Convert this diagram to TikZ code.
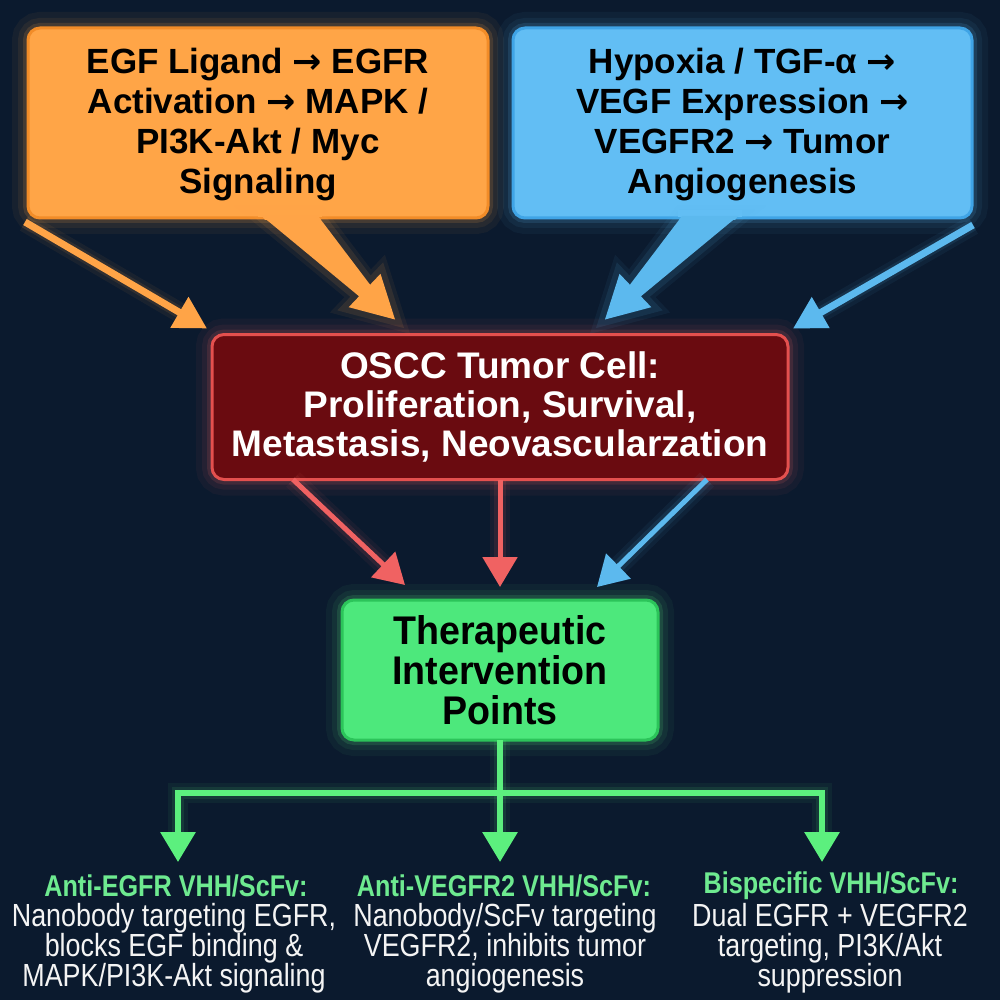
\documentclass[tikz,border=0pt]{standalone}
\usepackage{fontspec}
\setmainfont{Liberation Sans}
\newfontfamily\narrowfont[FakeStretch=0.84]{Liberation Sans}
\newfontfamily\gfont[FakeStretch=0.94]{Liberation Sans}
\newfontfamily\arrowfont{DejaVu Sans}
\newcommand\myarrow{{\arrowfont\bfseries →}}
\usetikzlibrary{arrows.meta,calc}
\definecolor{bg}{HTML}{0B1A2E}
\definecolor{orfill}{HTML}{FFA547}
\definecolor{ordraw}{HTML}{F28C28}
\definecolor{orarrow}{HTML}{FFA447}
\definecolor{blfill}{HTML}{62BEF4}
\definecolor{bldraw}{HTML}{3FA4E6}
\definecolor{blarrow}{HTML}{5CB9EE}
\definecolor{rdfill}{HTML}{6A0B10}
\definecolor{rddraw}{HTML}{E4504E}
\definecolor{rdarrow}{HTML}{F06262}
\definecolor{grfill}{HTML}{4DE87C}
\definecolor{grdraw}{HTML}{2CC45A}
\definecolor{grarrow}{HTML}{5CF07E}
\definecolor{grtext}{HTML}{6EEA90}
\definecolor{bodytext}{HTML}{F4F4F4}
\begin{document}
\begin{tikzpicture}[x=0.5pt,y=-0.5pt,
  box/.style={rounded corners=6pt, line width=1.5pt, inner sep=0pt, outer sep=0pt, align=center},
  glowbox/.style={preaction={draw=#1,line width=16pt,opacity=0.05},preaction={draw=#1,line width=10pt,opacity=0.07},preaction={draw=#1,line width=5pt,opacity=0.14}},
  glowline/.style={preaction={draw=#1,line width=10pt,opacity=0.06},preaction={draw=#1,line width=6pt,opacity=0.1}},
  topfont/.style={font=\bfseries\fontsize{17.5}{20}\selectfont},
  arrowline/.style={draw=#1, line width=3.5pt, -{Triangle[length=16pt,width=17pt]}, glowline=#1},
  midarrow/.style={draw=#1, line width=2.5pt, -{Triangle[length=15pt,width=17pt]}, glowline=#1},
  grarr/.style={draw=grarrow, line width=3pt, -{Triangle[length=15pt,width=17pt]}, glowline=grarrow},
  ttl/.style={inner sep=0pt, text=grtext, font=\narrowfont\bfseries\fontsize{15}{16}\selectfont},
  bdy/.style={inner sep=0pt, text=bodytext, align=center, font=\narrowfont\fontsize{16}{15}\selectfont}
]
\fill[bg] (0,0) rectangle (1000,1000);
\useasboundingbox (0,0) rectangle (1000,1000);

% top boxes
\node[box, glowbox=orarrow, fill=orfill, draw=ordraw, minimum width=230pt, minimum height=95pt, topfont] (org) at (258,123)
  {\rule{0pt}{2pt}\\[-8pt]EGF Ligand \myarrow{} EGFR\\Activation \myarrow{} MAPK /\\PI3K-Akt / Myc\\Signaling};
\node[box, glowbox=blarrow, fill=blfill, draw=bldraw, minimum width=229.5pt, minimum height=95pt, topfont] (blu) at (742.5,123)
  {\rule{0pt}{2pt}\\[-8pt]Hypoxia / TGF-α \myarrow\\VEGF Expression \myarrow\\VEGFR2 \myarrow{} Tumor\\Angiogenesis};

% red box
\node[box, glowbox=rdarrow, fill=rdfill, draw=rddraw, minimum width=288pt, minimum height=72.5pt, text=white,
  font=\bfseries\fontsize{18.5}{19.5}\selectfont] (red) at (500,407)
  {OSCC Tumor Cell:\\Proliferation, Survival,\\Metastasis, Neovascularzation};

% green box
\node[box, glowbox=grarrow, fill=grfill, draw=grdraw, minimum width=158pt, minimum height=70pt, text=black,
  font=\gfont\bfseries\fontsize{20}{20}\selectfont] (green) at (500,670)
  {Therapeutic\\Intervention\\Points};

% coordinates
\coordinate (oT) at ($(red.north west)+(183,-15)$);
\coordinate (bT) at ($(red.north east)+(-183,-15)$);
\coordinate (oA) at ($(org.south west)+(234,-2)$);
\coordinate (oB) at ($(org.south west)+(290,-2)$);
\coordinate (bA) at ($(blu.south west)+(225,-2)$);
\coordinate (bB) at ($(blu.south west)+(169,-2)$);
\coordinate (os) at ($(org.south west)+(-3,4)$);
\coordinate (ot) at ($(red.north west)+(-5,-6)$);
\coordinate (bs) at ($(blu.south east)+(1,7)$);
\coordinate (bt) at ($(red.north east)+(5,-6)$);

% wedge arrows
\fill[orarrow, glowline=orarrow] (oA) -- (oB) -- ($(oT)+(-24.9,-34.8)$) -- ($(oT)+(-14.5,-45.7)$) -- (oT)
  -- ($(oT)+(-46.3,-12.3)$) -- ($(oT)+(-35.9,-23.2)$) -- cycle;
\fill[blarrow, glowline=blarrow] (bA) -- (bB) -- ($(bT)+(24.9,-34.8)$) -- ($(bT)+(14.5,-45.7)$) -- (bT)
  -- ($(bT)+(46.3,-12.3)$) -- ($(bT)+(35.9,-23.2)$) -- cycle;
\fill[orfill] ($(oA)+(-4,-6)$) rectangle ($(oB)+(4,1)$);
\fill[blfill] ($(bB)+(-4,-6)$) rectangle ($(bA)+(4,1)$);
\fill[orarrow] (oA) -- (oB) -- ($(oB)+(3,4)$) -- ($(oA)+(3,4)$) -- cycle;
\fill[blarrow] (bA) -- (bB) -- ($(bB)+(-3,4)$) -- ($(bA)+(-3,4)$) -- cycle;

% thin arrows
\draw[arrowline=orarrow] (os) -- (ot);
\draw[arrowline=blarrow] (bs) -- (bt);

% red box to green box
\coordinate (r1) at ($(red.south west)+(81,0)$);
\coordinate (r3) at ($(red.south east)+(-81,0)$);
\coordinate (g1) at ($(green.north west)+(63,-15)$);
\coordinate (g2) at ($(green.north)+(0,-13)$);
\coordinate (g3) at ($(green.north east)+(-61,-13)$);
\draw[midarrow=rdarrow] (r1) -- (g1);
\draw[midarrow=rdarrow] (red.south) -- (g2);
\draw[midarrow=blarrow] (r3) -- (g3);

% bottom texts
\node[ttl] (t1) at (176,886) {Anti-EGFR VHH/ScFv:};
\node[bdy] (b1) at (174,948) {Nanobody targeting EGFR,\\blocks EGF binding \&\\MAPK/PI3K-Akt signaling};
\node[ttl] (t2) at (504,886) {Anti-VEGFR2 VHH/ScFv:};
\node[bdy] (b2) at (505,948) {Nanobody/ScFv targeting\\VEGFR2, inhibits tumor\\angiogenesis};
\node[ttl] (t3) at (831,886) {Bispecific VHH/ScFv:};
\node[bdy] (b3) at (830,948) {Dual EGFR + VEGFR2\\targeting, PI3K/Akt\\suppression};

% green distribution
\coordinate (j) at ($(green.south)+(0,53)$);
\coordinate (a1) at (178,862);
\coordinate (a2) at (500,862);
\coordinate (a3) at (822,862);
\draw[grarr] (j) -| (a1);
\draw[grarr] (j) -| (a3);
\draw[grarr] (green.south) -- (a2);
\end{tikzpicture}
\end{document}
